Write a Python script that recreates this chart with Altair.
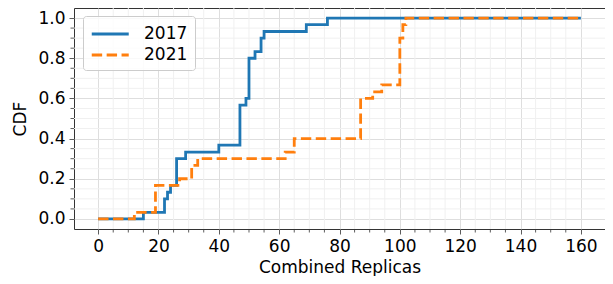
import altair as alt
import pandas as pd

years = ["2017", "2021"]

x_2017 = [0, 15, 22, 23, 24, 26, 29, 40, 47, 49, 50, 52, 54, 55, 69, 76, 160]
cdf_2017 = [0.0, 0.033, 0.1, 0.133, 0.167, 0.3, 0.333, 0.367, 0.567, 0.6,
            0.8, 0.833, 0.9, 0.933, 0.967, 1.0, 1.0]

x_2021 = [0, 12, 19, 27, 31, 33, 62, 65, 87, 91, 94, 100, 101, 102, 160]
cdf_2021 = [0.0, 0.033, 0.167, 0.2, 0.267, 0.3, 0.333, 0.4, 0.6, 0.633,
            0.667, 0.9, 0.967, 1.0, 1.0]

x_major = [0, 20, 40, 60, 80, 100, 120, 140, 160]
x_minor = [v for v in range(5, 160, 5) if v % 20 != 0]
y_major = [0.0, 0.2, 0.4, 0.6, 0.8, 1.0]
y_minor = [round(v * 0.05, 2) for v in range(0, 21) if v % 4 != 0]

W, H = 531, 221

df = pd.DataFrame(
    {"year": ["2017"] * len(x_2017) + ["2021"] * len(x_2021),
     "x": x_2017 + x_2021,
     "cdf": cdf_2017 + cdf_2021}
)
xm = pd.DataFrame({"x": x_minor})
ym = pd.DataFrame({"cdf": y_minor})

xs = alt.Scale(domain=[-8, 168], nice=False, zero=False)
ys = alt.Scale(domain=[-0.05, 1.05], nice=False, zero=False)
x_axis = alt.Axis(values=x_major, format="d")
y_axis = alt.Axis(values=y_major, format=".1f")
X = lambda: alt.X("x:Q", scale=xs, title="Combined Replicas", axis=x_axis)
Y = lambda: alt.Y("cdf:Q", scale=ys, title="CDF", axis=y_axis)

minor_grid_x = alt.Chart(xm).mark_rule(color="#f0f0f0", strokeWidth=1).encode(x=X())
minor_grid_y = alt.Chart(ym).mark_rule(color="#f0f0f0", strokeWidth=1).encode(y=Y())
minor_tick_x = alt.Chart(xm).mark_rule(color="#333333", strokeWidth=0.8).encode(
    x=X(), y=alt.value(H), y2=alt.value(H + 3.5))
minor_tick_y = alt.Chart(ym).mark_rule(color="#333333", strokeWidth=0.8).encode(
    y=Y(), x=alt.value(-3.5), x2=alt.value(0))

leg = alt.Legend(title=None, orient="none", legendX=9, legendY=8)

lines = alt.Chart(df).mark_line(interpolate="step-after", strokeWidth=2.8).encode(
    x=X(),
    y=Y(),
    color=alt.Color("year:N", scale=alt.Scale(domain=years, range=["#1f77b4", "#ff7f0e"]),
                    legend=leg),
    strokeDash=alt.StrokeDash("year:N", scale=alt.Scale(domain=years, range=[[1, 0], [10.4, 4.5]]),
                              legend=leg),
)

chart = alt.layer(minor_grid_x, minor_grid_y, lines, minor_tick_x, minor_tick_y).properties(
    width=W, height=H,
    autosize=alt.AutoSizeParams(type="none"),
    padding={"left": 66, "top": 0, "right": 0, "bottom": 47},
).configure_view(stroke="#333333", strokeWidth=1).configure_axis(
    domain=False, grid=True, gridColor="#dedede", gridWidth=1,
    tickColor="#333333", tickSize=5, tickWidth=0.8,
    labelFont="DejaVu Sans", labelFontSize=17, labelColor="black", labelPadding=4,
    titleFont="DejaVu Sans", titleFontSize=17, titleFontWeight="normal", titleColor="black",
).configure_axisX(titlePadding=5).configure_axisY(titlePadding=8).configure_legend(
    symbolType="M-1,0H3", symbolStrokeWidth=2.8, symbolSize=342,
    labelFont="DejaVu Sans", labelFontSize=17, labelColor="black", labelOffset=32,
    padding=7, strokeColor="#cccccc", fillColor="rgba(255,255,255,0.8)", cornerRadius=3,
    rowPadding=2,
)

chart.save("out.html", embed_options={"renderer": "svg", "actions": False})
